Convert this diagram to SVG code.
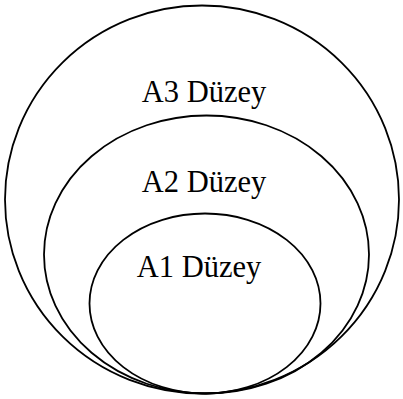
<svg xmlns="http://www.w3.org/2000/svg" width="403" height="399" viewBox="0 0 403 399">
<style>
.ring{fill:none;stroke:#000;stroke-width:1.8}
text{fill:#000;text-anchor:middle}
</style>
<rect width="403" height="399" fill="#fff"/>
<g id="a3">
<ellipse class="ring" cx="202" cy="199.5" rx="197" ry="194"/>
<text x="204" y="101.7" font-family="Liberation Serif" font-size="30.5">A3 Düzey</text>
</g>
<g id="a2">
<ellipse class="ring" cx="206.5" cy="254.5" rx="162.5" ry="139"/>
<text x="204" y="191.7" font-family="Liberation Serif" font-size="30.5">A2 Düzey</text>
</g>
<g id="a1">
<ellipse class="ring" cx="205" cy="303.5" rx="115.5" ry="90"/>
<text x="199" y="276.7" font-family="Liberation Serif" font-size="30.5">A1 Düzey</text>
</g>
<g id="connectors"/>
</svg>
